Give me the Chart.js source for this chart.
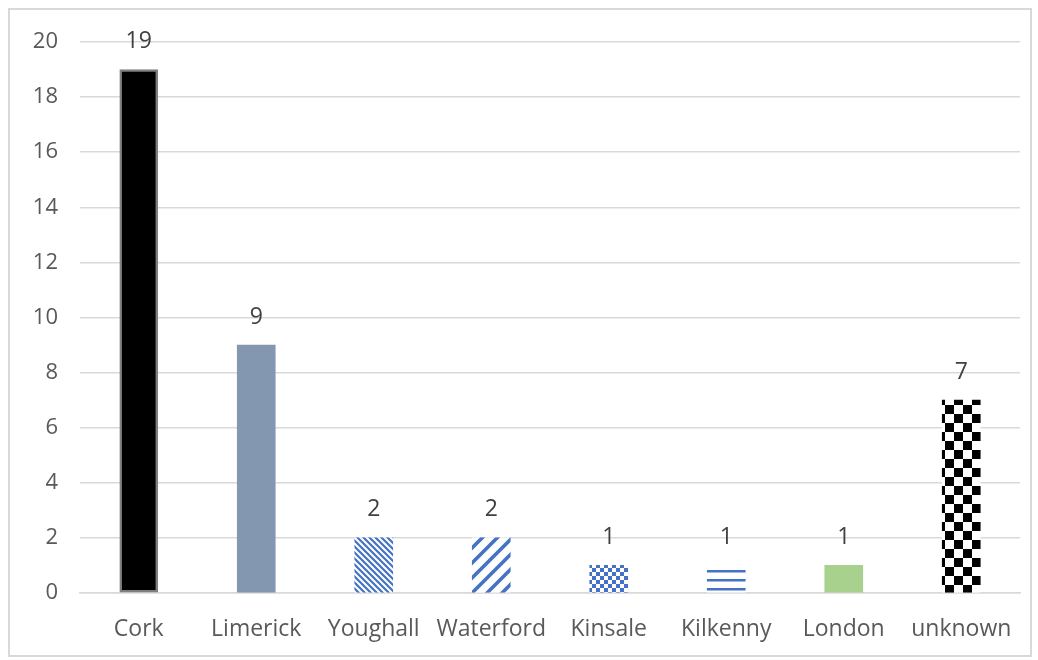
<!DOCTYPE html>
<html>
<head>
<meta charset="utf-8">
<script src="https://cdn.jsdelivr.net/npm/chart.js@4.4.0/dist/chart.umd.min.js"></script>
<style>
  html, body { margin: 0; padding: 0; background: #fff; }
  #wrap { position: relative; width: 1038px; height: 660px; }
  #frame {
    position: absolute; left: 8px; top: 8px; width: 1020px; height: 645px;
    border: 2px solid #d9d9d9; pointer-events: none;
  }
  canvas { position: absolute; left: 0; top: 0; }
</style>
</head>
<body>
<div id="wrap">
  <canvas id="portChart" width="1038" height="660"></canvas>
  <div id="frame"></div>
</div>
<script>
// ports of origin and their counts
const ports = ["Cork", "Limerick", "Youghall", "Waterford", "Kinsale", "Kilkenny", "London", "unknown"];
const counts = [19, 9, 2, 2, 1, 1, 1, 7];
const yTicks = [0, 2, 4, 6, 8, 10, 12, 14, 16, 18, 20];

const BLUE = "#4472c4";
const canvas = document.getElementById("portChart");
const ctx = canvas.getContext("2d");

// small helper: build a tile then turn it into a repeating fill
function makePattern(size, draw) {
  const tile = document.createElement("canvas");
  tile.width = size.w;
  tile.height = size.h;
  const t = tile.getContext("2d");
  t.fillStyle = "#fff";
  t.fillRect(0, 0, size.w, size.h);
  draw(t, size.w, size.h);
  return ctx.createPattern(tile, "repeat");
}

// thin "\" stripes
const narrowDown = makePattern({ w: 6, h: 6 }, (t, w, h) => {
  t.strokeStyle = BLUE;
  t.lineWidth = 2.2;
  t.beginPath();
  t.moveTo(-1, -1); t.lineTo(w + 1, h + 1);
  t.moveTo(-1, h - 1); t.lineTo(1, h + 1);
  t.moveTo(w - 1, -1); t.lineTo(w + 1, 1);
  t.stroke();
});

// wide "/" stripes
const wideUp = makePattern({ w: 15, h: 15 }, (t, w, h) => {
  t.strokeStyle = BLUE;
  t.lineWidth = 3.6;
  t.beginPath();
  t.moveTo(-2, h + 2); t.lineTo(w + 2, -2);
  t.moveTo(-2, 2); t.lineTo(2, -2);
  t.moveTo(w - 2, h + 2); t.lineTo(w + 2, h - 2);
  t.stroke();
});

// small blue checkerboard
const smallCheck = makePattern({ w: 8, h: 8 }, (t) => {
  t.fillStyle = BLUE;
  t.fillRect(0, 0, 4, 4);
  t.fillRect(4, 4, 4, 4);
});

// horizontal lines
const hLines = makePattern({ w: 4, h: 9 }, (t, w) => {
  t.fillStyle = BLUE;
  t.fillRect(0, 3, w, 2.5);
});

// large black checkerboard
const bigCheck = makePattern({ w: 18, h: 18 }, (t) => {
  t.fillStyle = "#000";
  t.fillRect(0, 0, 9, 9);
  t.fillRect(9, 9, 9, 9);
});

const fills = ["#000000", "#8497b0", narrowDown, wideUp, smallCheck, hLines, "#a9d18e", bigCheck];
const borders = ["#7f7f7f", null, null, null, null, null, null, null];

// value printed above every bar
const valueLabels = {
  id: "valueLabels",
  afterDatasetsDraw(chart) {
    const c = chart.ctx;
    const meta = chart.getDatasetMeta(0);
    c.save();
    c.font = "23px 'Open Sans'";
    c.fillStyle = "#404040";
    c.textAlign = "center";
    c.textBaseline = "middle";
    meta.data.forEach((bar, i) => {
      c.fillText(String(counts[i]), bar.x, bar.y - 28);
    });
    c.restore();
  }
};

new Chart(ctx, {
  type: "bar",
  data: {
    labels: ports,
    datasets: [{
      data: counts,
      backgroundColor: fills,
      borderColor: borders.map(b => b || "rgba(0,0,0,0)"),
      borderWidth: borders.map(b => (b ? 2.5 : 0)),
      borderSkipped: false,
      barThickness: 38,
    }],
  },
  options: {
    responsive: false,
    animation: false,
    layout: { padding: { top: 42, right: 18, left: 0, bottom: 0 } },
    plugins: {
      legend: { display: false },
      tooltip: { enabled: false },
    },
    scales: {
      x: {
        grid: { display: false, drawTicks: false },
        border: { color: "#d9d9d9", width: 1.5 },
        ticks: {
          color: "#595959",
          font: { family: "'Open Sans'", size: 23 },
          padding: 23,
          maxRotation: 0,
          autoSkip: false,
        },
        afterFit(scale) { scale.height = 67; },
      },
      y: {
        min: 0,
        max: 20,
        afterBuildTicks(scale) { scale.ticks = yTicks.map(v => ({ value: v })); },
        grid: { color: "#d9d9d9", lineWidth: 1.5, drawTicks: false },
        border: { display: false },
        ticks: {
          color: "#595959",
          font: { family: "'Open Sans'", size: 22 },
          padding: 22,
        },
        afterFit(scale) { scale.width = 80; },
      },
    },
  },
  plugins: [valueLabels],
});
</script>
</body>
</html>
